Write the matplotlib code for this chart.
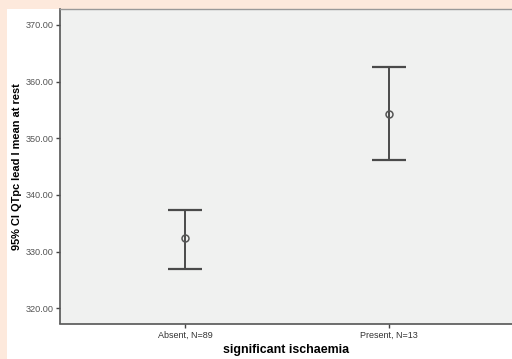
#!/usr/bin/env python3
"""Error-bar chart: 95% CI of QTpc lead I mean at rest by significant ischaemia."""

import matplotlib
matplotlib.use("Agg")
import matplotlib.pyplot as plt
from matplotlib.patches import Rectangle

plt.rcParams["font.family"] = ["Liberation Sans", "DejaVu Sans"]

# data
categories = ["Absent, N=89", "Present, N=13"]
means = [332.3, 354.35]
ci_low = [327.0, 346.1]
ci_high = [337.4, 362.65]
y_ticks = [320, 330, 340, 350, 360, 370]

W, H = 512, 359
fig = plt.figure(figsize=(W / 100, H / 100), dpi=100)
fig.patch.set_facecolor("#fde9dc")
# white panel behind the chart
panel = Rectangle((7 / W, 0), 1 - 7 / W, (H - 9) / H,
                  transform=fig.transFigure, facecolor="white",
                  edgecolor="none", zorder=-10)
fig.add_artist(panel)

ax = fig.add_axes([60 / W, (H - 323.5) / H, 1 - 60 / W, 314.5 / H])
ax.set_zorder(5)
ax.set_facecolor("#f0f1f0")

x = [1, 2]
yerr = [[m - lo for m, lo in zip(means, ci_low)],
        [hi - m for m, hi in zip(means, ci_high)]]
ax.errorbar(x, means, yerr=yerr, fmt="none", ecolor="#4a4a4a",
            elinewidth=1.4, capsize=12, capthick=1.6)
ax.plot(x, means, "o", ms=5, mfc="none", mec="#555555", mew=1.1)

ax.set_xlim(0.387, 2.603)
ax.set_ylim(317.3, 372.8)
ax.set_xticks(x)
ax.set_xticklabels(categories, fontsize=6.5, color="#333333")
ax.set_yticks(y_ticks)
ax.set_yticklabels([f"{v:.2f}" for v in y_ticks], fontsize=6.6, color="#555555")
ax.tick_params(axis="both", direction="out", length=3, width=1, color="#444444")
ax.tick_params(axis="y", pad=1.5)
ax.tick_params(axis="x", pad=2.5)

for side in ["left", "bottom"]:
    ax.spines[side].set_color("#555555")
    ax.spines[side].set_linewidth(1.2)
ax.spines["top"].set_color("#999999")
ax.spines["top"].set_linewidth(1.0)
ax.spines["right"].set_visible(False)

ax.set_xlabel("significant ischaemia", fontsize=8.9, fontweight="bold")
ax.set_ylabel("95% CI QTpc lead I mean at rest", fontsize=7.9, fontweight="bold")
ax.yaxis.set_label_coords(-38 / 452, 0.5)
ax.xaxis.set_label_coords(0.5, -21 / 314.5)

fig.savefig("out.png", dpi=100, facecolor=fig.get_facecolor())
